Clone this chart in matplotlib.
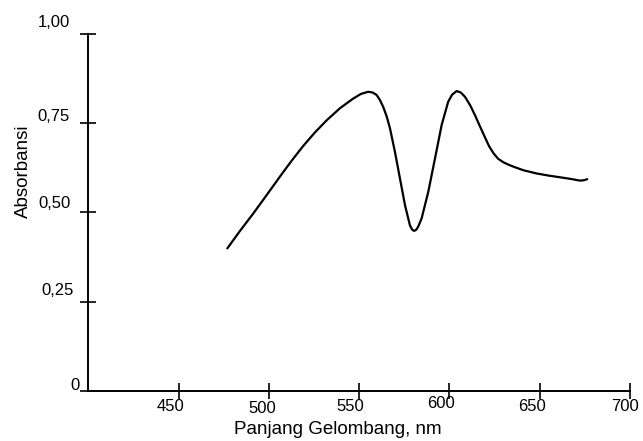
import matplotlib
matplotlib.use("Agg")
import matplotlib.pyplot as plt
from matplotlib.transforms import ScaledTranslation

# ---- data ----
wavelength = [477.0, 484.0, 491.4, 499.0, 506.1, 512.5, 519.0, 525.5, 532.0, 539.4,
              546.7, 551.0, 555.0, 557.5, 559.7, 561.5, 563.3, 565.3, 567.1, 569.8,
              572.6, 575.4, 578.1, 579.3, 580.4, 581.6, 582.7, 584.6, 588.3, 592.0,
              595.7, 599.3, 601.5, 604.0, 606.3, 608.6, 611.5, 614.1, 617.0, 619.7,
              622.0, 624.5, 627.0, 630.0, 633.0, 636.0, 641.0, 648.3, 655.0, 663.0,
              668.0, 672.3, 674.5, 676.3]
absorbance = [0.399, 0.448, 0.497, 0.550, 0.600, 0.644, 0.686, 0.724, 0.758, 0.792,
              0.819, 0.832, 0.838, 0.836, 0.829, 0.815, 0.796, 0.768, 0.735, 0.670,
              0.595, 0.520, 0.464, 0.452, 0.448, 0.451, 0.460, 0.483, 0.558, 0.651,
              0.745, 0.810, 0.830, 0.840, 0.836, 0.824, 0.800, 0.773, 0.740, 0.710,
              0.685, 0.665, 0.650, 0.640, 0.633, 0.627, 0.618, 0.609, 0.603, 0.597,
              0.593, 0.589, 0.590, 0.593]

x_ticks = [450, 500, 550, 600, 650, 700]
x_tick_labels = ["450", "500", "550", "600", "650", "700"]
y_ticks = [0, 0.25, 0.50, 0.75, 1.00]
y_tick_labels = ["0", "0,25", "0,50", "0,75", "1,00"]

plt.rcParams['font.family'] = ['Liberation Sans', 'DejaVu Sans']

W, H = 643, 441
fig = plt.figure(figsize=(W / 100, H / 100), dpi=100)
left, right, bottom, top = 88.3, 630.0, 390.7, 34.0
ax = fig.add_axes([left / W, 1 - bottom / H, (right - left) / W, (bottom - top) / H])

ax.plot(wavelength, absorbance, color='black', lw=1.6,
        solid_capstyle='round', solid_joinstyle='round')

ax.set_xlim(400, 700)
ax.set_ylim(0, 1.0)
for s in ['top', 'right']:
    ax.spines[s].set_visible(False)
for s in ['left', 'bottom']:
    ax.spines[s].set_linewidth(1.4)

ax.set_xticks(x_ticks)
ax.set_xticklabels(x_tick_labels)
ax.set_yticks(y_ticks)
ax.set_yticklabels(y_tick_labels)
ax.tick_params(axis='both', direction='inout', length=12, width=1.2, labelsize=12)
ax.tick_params(axis='x', pad=0.0)
ax.tick_params(axis='y', pad=6.0)

px = 72 / 100  # points per pixel
x_off = {"450": (-8, 0), "500": (-7, -2), "550": (-9, 0), "600": (-8, 3), "650": (-8, 0), "700": (-5, 0)}
for lab in ax.get_xticklabels():
    dx, dy = x_off[lab.get_text()]
    lab.set_transform(lab.get_transform() + ScaledTranslation(dx * px / 72, dy * px / 72, fig.dpi_scale_trans))
y_off = {"0": (8, 7), "0,25": (2, 13), "0,50": (-1, 10), "0,75": (-2, 8), "1,00": (-2, 13)}
for lab in ax.get_yticklabels():
    dx, dy = y_off[lab.get_text()]
    lab.set_transform(lab.get_transform() + ScaledTranslation(dx * px / 72, dy * px / 72, fig.dpi_scale_trans))

fig.text(337.5 / W, 1 - 430 / H, "Panjang Gelombang, nm", ha='center', va='center', fontsize=13.5)
fig.text(23 / W, 1 - 171 / H, "Absorbansi", ha='center', va='center', rotation=90, fontsize=13.5)

fig.savefig("out.png", dpi=100)
